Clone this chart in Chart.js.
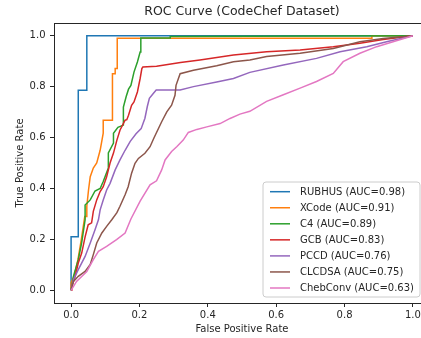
<!DOCTYPE html>
<html>
<head>
<meta charset="utf-8">
<script src="https://cdn.jsdelivr.net/npm/chart.js@4/dist/chart.umd.min.js"></script>
<style>
  html, body { margin: 0; padding: 0; background: #fff; overflow: hidden; }
  #wrap { width: 440px; height: 338px; }
</style>
</head>
<body>
<div id="wrap"><canvas id="c" width="440" height="338"></canvas></div>
<script>
const chartTitle = 'ROC Curve (CodeChef Dataset)';
const xAxisTitle = 'False Positive Rate';
const yAxisTitle = 'True Positive Rate';
const xTickValues = [0, 0.2, 0.4, 0.6, 0.8, 1.0];
const yTickValues = [0, 0.2, 0.4, 0.6, 0.8, 1.0];

const seriesNames = ['RUBHUS', 'XCode', 'C4', 'GCB', 'PCCD', 'CLCDSA', 'ChebConv'];
const aucValues = [0.98, 0.91, 0.89, 0.83, 0.76, 0.75, 0.63];
const seriesColors = ['#1f77b4', '#ff7f0e', '#2ca02c', '#d62728', '#9467bd', '#8c564b', '#e377c2'];

const rubhusFpr = [0, 0, 0.021, 0.021, 0.046, 0.046, 1.0];
const rubhusTpr = [0, 0.21, 0.21, 0.786, 0.786, 1.0, 1.0];

const xcodeFpr = [0, 0, 0.01, 0.02, 0.03, 0.04, 0.046, 0.046, 0.051, 0.056, 0.065, 0.075, 0.085, 0.094, 0.094, 0.114, 0.121, 0.121, 0.129, 0.129, 0.135, 0.135, 0.52, 0.88, 0.88, 1.0];
const xcodeTpr = [0, 0.03, 0.06, 0.12, 0.2, 0.29, 0.29, 0.33, 0.394, 0.446, 0.48, 0.5, 0.55, 0.617, 0.668, 0.668, 0.668, 0.851, 0.851, 0.871, 0.871, 0.99, 0.99, 0.99, 1.0, 1.0];

const c4Fpr = [0, 0.007, 0.021, 0.031, 0.041, 0.041, 0.056, 0.07, 0.085, 0.094, 0.109, 0.109, 0.124, 0.124, 0.137, 0.153, 0.153, 0.161, 0.168, 0.175, 0.184, 0.194, 0.202, 0.204, 0.204, 0.29, 0.29, 1.0];
const c4Tpr = [0, 0.055, 0.12, 0.187, 0.277, 0.335, 0.355, 0.39, 0.40, 0.427, 0.48, 0.54, 0.578, 0.617, 0.64, 0.649, 0.72, 0.76, 0.79, 0.805, 0.857, 0.897, 0.936, 0.936, 0.991, 0.991, 0.997, 1.0];

const gcbFpr = [0, 0.002, 0.012, 0.021, 0.031, 0.041, 0.05, 0.06, 0.065, 0.075, 0.085, 0.094, 0.104, 0.114, 0.124, 0.134, 0.143, 0.158, 0.163, 0.168, 0.177, 0.184, 0.194, 0.202, 0.207, 0.21, 0.25, 0.32, 0.377, 0.475, 0.572, 0.67, 0.767, 0.845, 0.913, 1.0];
const gcbTpr = [0, 0.016, 0.055, 0.107, 0.146, 0.21, 0.257, 0.265, 0.31, 0.355, 0.388, 0.407, 0.446, 0.5, 0.539, 0.59, 0.629, 0.668, 0.67, 0.688, 0.727, 0.74, 0.779, 0.832, 0.871, 0.877, 0.88, 0.895, 0.905, 0.924, 0.937, 0.944, 0.957, 0.97, 0.985, 1.0];

const pccdFpr = [0, 0.007, 0.021, 0.041, 0.056, 0.07, 0.08, 0.085, 0.094, 0.104, 0.114, 0.129, 0.143, 0.158, 0.173, 0.19, 0.205, 0.216, 0.223, 0.229, 0.241, 0.249, 0.319, 0.358, 0.426, 0.475, 0.523, 0.621, 0.718, 0.787, 0.865, 0.923, 1.0];
const pccdTpr = [0, 0.042, 0.081, 0.133, 0.186, 0.238, 0.277, 0.316, 0.355, 0.394, 0.42, 0.473, 0.512, 0.55, 0.585, 0.615, 0.635, 0.676, 0.722, 0.754, 0.774, 0.787, 0.787, 0.8, 0.818, 0.832, 0.856, 0.885, 0.911, 0.937, 0.957, 0.976, 1.0];

const clcdsaFpr = [0, 0.007, 0.021, 0.041, 0.056, 0.065, 0.075, 0.09, 0.104, 0.119, 0.134, 0.143, 0.158, 0.167, 0.177, 0.187, 0.197, 0.216, 0.231, 0.243, 0.25, 0.265, 0.28, 0.294, 0.304, 0.307, 0.314, 0.319, 0.358, 0.426, 0.475, 0.523, 0.572, 0.67, 0.767, 0.845, 0.913, 1.0];
const clcdsaTpr = [0, 0.035, 0.055, 0.074, 0.101, 0.14, 0.186, 0.225, 0.251, 0.277, 0.305, 0.33, 0.375, 0.407, 0.46, 0.499, 0.518, 0.538, 0.564, 0.6, 0.62, 0.662, 0.701, 0.727, 0.766, 0.805, 0.832, 0.851, 0.864, 0.882, 0.898, 0.905, 0.918, 0.931, 0.95, 0.976, 0.989, 1.0];

const chebFpr = [0, 0.016, 0.046, 0.065, 0.08, 0.104, 0.133, 0.158, 0.175, 0.202, 0.231, 0.25, 0.265, 0.275, 0.294, 0.309, 0.328, 0.343, 0.368, 0.397, 0.436, 0.465, 0.494, 0.523, 0.572, 0.621, 0.67, 0.718, 0.767, 0.796, 0.845, 0.894, 0.942, 1.0];
const chebTpr = [0, 0.035, 0.074, 0.12, 0.153, 0.172, 0.199, 0.225, 0.28, 0.35, 0.414, 0.43, 0.473, 0.512, 0.545, 0.564, 0.59, 0.62, 0.632, 0.642, 0.655, 0.675, 0.692, 0.703, 0.742, 0.768, 0.794, 0.82, 0.852, 0.898, 0.931, 0.957, 0.976, 1.0];

const seriesFpr = [rubhusFpr, xcodeFpr, c4Fpr, gcbFpr, pccdFpr, clcdsaFpr, chebFpr];
const seriesTpr = [rubhusTpr, xcodeTpr, c4Tpr, gcbTpr, pccdTpr, clcdsaTpr, chebTpr];

const FONT = "'DejaVu Sans', 'Liberation Sans', sans-serif";
const INK = '#262626';

const datasets = seriesNames.map((name, i) => ({
  label: name + ' (AUC=' + aucValues[i].toFixed(2) + ')',
  data: seriesFpr[i].map((x, k) => ({ x: x, y: seriesTpr[i][k] })),
  borderColor: seriesColors[i],
  backgroundColor: seriesColors[i],
  borderWidth: 1.5,
  pointRadius: 0,
  pointHoverRadius: 0,
  showLine: true,
  fill: false,
  tension: 0,
  order: seriesNames.length - 1 - i
}));

const frameAndLegend = {
  id: 'frameAndLegend',
  afterDatasetsDraw(chart) {
    const ctx = chart.ctx;
    const a = chart.chartArea;
    ctx.save();
    ctx.strokeStyle = INK;
    ctx.lineWidth = 1;
    ctx.beginPath();
    ctx.moveTo(a.left, a.top + 0.5);
    ctx.lineTo(a.right, a.top + 0.5);
    ctx.moveTo(a.right - 0.5, a.top);
    ctx.lineTo(a.right - 0.5, a.bottom);
    ctx.stroke();

    const bx = 263, by = 182, bw = 157, bh = 115, r = 3;
    ctx.beginPath();
    ctx.moveTo(bx + r, by);
    ctx.lineTo(bx + bw - r, by);
    ctx.quadraticCurveTo(bx + bw, by, bx + bw, by + r);
    ctx.lineTo(bx + bw, by + bh - r);
    ctx.quadraticCurveTo(bx + bw, by + bh, bx + bw - r, by + bh);
    ctx.lineTo(bx + r, by + bh);
    ctx.quadraticCurveTo(bx, by + bh, bx, by + bh - r);
    ctx.lineTo(bx, by + r);
    ctx.quadraticCurveTo(bx, by, bx + r, by);
    ctx.closePath();
    ctx.fillStyle = 'rgba(255,255,255,0.8)';
    ctx.fill();
    ctx.strokeStyle = '#cccccc';
    ctx.lineWidth = 1;
    ctx.stroke();

    ctx.font = '10px ' + FONT;
    ctx.textBaseline = 'middle';
    ctx.textAlign = 'left';
    chart.data.datasets.forEach((ds, i) => {
      const y = 191.7 + i * 16.05;
      ctx.strokeStyle = ds.borderColor;
      ctx.lineWidth = 1.5;
      ctx.beginPath();
      ctx.moveTo(270, y);
      ctx.lineTo(290, y);
      ctx.stroke();
      ctx.fillStyle = INK;
      ctx.fillText(ds.label, 300, y + 0.5);
    });
    ctx.restore();
  }
};

new Chart(document.getElementById('c'), {
  type: 'scatter',
  data: { datasets: datasets },
  options: {
    responsive: false,
    animation: false,
    layout: { padding: { left: 0, right: 10, top: 0, bottom: 0 } },
    plugins: {
      legend: { display: false },
      tooltip: { enabled: false },
      title: {
        display: true,
        text: chartTitle,
        fullSize: false,
        color: INK,
        font: { family: FONT, size: 12.5, weight: 'normal' },
        padding: { top: 4.5, bottom: 3.5 }
      }
    },
    scales: {
      x: {
        type: 'linear',
        min: -0.05,
        max: 1.05,
        afterBuildTicks: (s) => { s.ticks = xTickValues.map(v => ({ value: v })); },
        afterFit: (s) => { s.height = 35; },
        ticks: {
          color: INK,
          font: { family: FONT, size: 10 },
          padding: 2,
          maxRotation: 0,
          autoSkip: false,
          callback: (v) => Number(v).toFixed(1)
        },
        grid: { display: true, drawOnChartArea: false, drawTicks: true, tickLength: 4, color: INK, lineWidth: 1 },
        border: { display: true, color: INK, width: 1 },
        title: { display: true, text: xAxisTitle, color: INK, font: { family: FONT, size: 10 }, padding: { top: 0, bottom: 3 } }
      },
      y: {
        type: 'linear',
        min: -0.05,
        max: 1.05,
        afterBuildTicks: (s) => { s.ticks = yTickValues.map(v => ({ value: v })); },
        afterFit: (s) => { s.width = 54; },
        ticks: {
          color: INK,
          font: { family: FONT, size: 10 },
          padding: 4.5,
          autoSkip: false,
          callback: (v) => Number(v).toFixed(1)
        },
        grid: { display: true, drawOnChartArea: false, drawTicks: true, tickLength: 4, color: INK, lineWidth: 1 },
        border: { display: true, color: INK, width: 1 },
        title: { display: true, text: yAxisTitle, color: INK, font: { family: FONT, size: 10 }, padding: { top: 14, bottom: 0 } }
      }
    }
  },
  plugins: [frameAndLegend]
});
</script>
</body>
</html>
